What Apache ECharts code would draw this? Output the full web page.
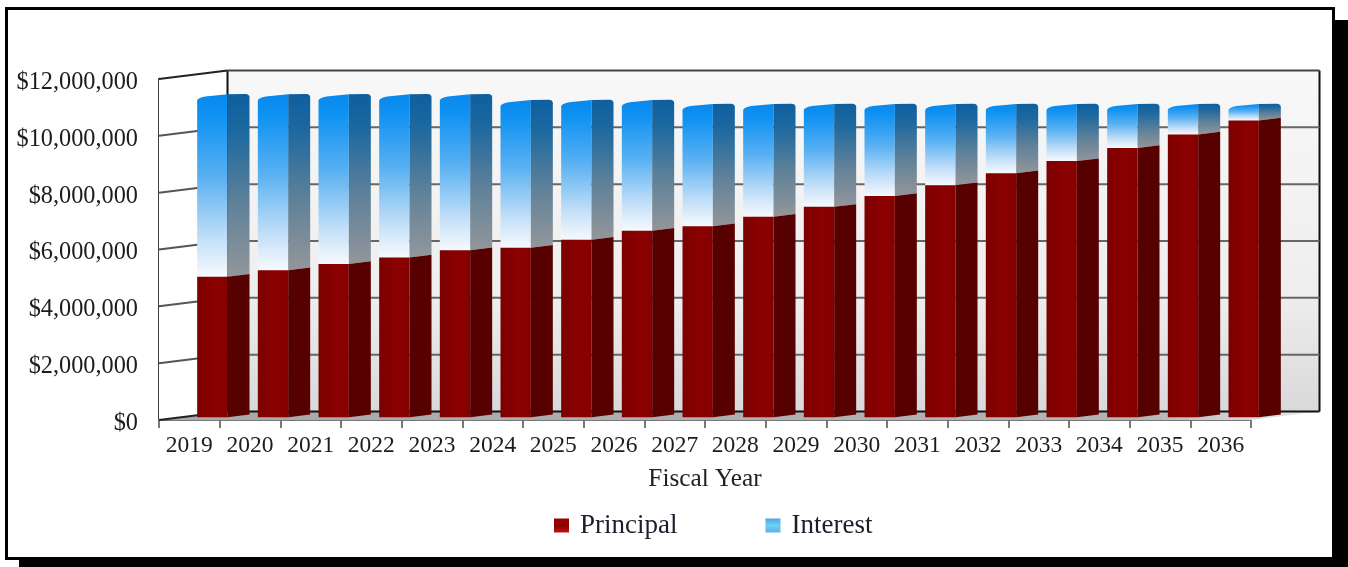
<!DOCTYPE html>
<html>
<head>
<meta charset="utf-8">
<script src="https://cdn.jsdelivr.net/npm/echarts@6/dist/echarts.min.js"></script>
<style>
html,body{margin:0;padding:0;background:#fff;overflow:hidden}
#shadow{position:absolute;left:19px;top:20px;width:1329px;height:547px;background:#000}
#frame{position:absolute;left:5px;top:7px;width:1324px;height:547px;background:#fff;border:3px solid #000}
#chart{position:absolute;left:0;top:0;width:1348px;height:567px}
</style>
</head>
<body>
<div id="shadow"></div>
<div id="frame"></div>
<div id="chart"></div>
<script>
var categories = ['2019','2020','2021','2022','2023','2024','2025','2026','2027','2028','2029','2030','2031','2032','2033','2034','2035','2036'];
var principal = [4940000,5170000,5390000,5620000,5870000,5960000,6240000,6560000,6720000,7050000,7400000,7780000,8160000,8580000,9010000,9470000,9950000,10440000];
var interest = [6310000,6080000,5860000,5630000,5380000,5090000,4810000,4490000,4190000,3860000,3510000,3130000,2750000,2330000,1900000,1440000,960000,470000];
var yMin = 0, yMax = 12000000, yStep = 2000000;
var wallTicks = [0,2000000,4000000,6000000,8000000,10000000,12000000];

var DEPTH_X = 68.5, DEPTH_Y = 8.5;
var BAR_DEPTH = 22, BAR_OFFSET = 23, BAR_RATIO = 0.5;
var G = echarts.graphic;
var FONT = '"Liberation Serif","Times New Roman",serif';

function vgrad(stops){ return new G.LinearGradient(0,0,0,1,stops.map(function(s){return {offset:s[0],color:s[1]};})); }
function hgrad(stops){ return new G.LinearGradient(0,0,1,0,stops.map(function(s){return {offset:s[0],color:s[1]};})); }

function renderBar(kind){
  return function(params, api){
    var i = api.value(0), a = api.coord([i, api.value(1)]), b = api.coord([i, api.value(2)]);
    var w = api.size([1,0])[0] * BAR_RATIO;
    var rise = BAR_DEPTH * DEPTH_Y / DEPTH_X;
    var lift = BAR_OFFSET * DEPTH_Y / DEPTH_X;
    var x0 = a[0] + BAR_OFFSET - w/2, x1 = x0 + w, x2 = x1 + BAR_DEPTH;
    var yB = a[1] - lift, yT = b[1] - lift;
    if (kind === 'principal') {
      return {type:'group', children:[
        {type:'polygon', shape:{points:[[x0,yB],[x1,yB],[x1,yT],[x0,yT]]},
          style:{fill:hgrad([[0,'#7c0000'],[0.6,'#8c0000'],[1,'#860000']])}},
        {type:'polygon', shape:{points:[[x1,yB],[x2,yB-rise],[x2,yT-rise],[x1,yT]]},
          style:{fill:'#570000'}}
      ]};
    }
    var front = 'M'+x0+' '+yB+' L'+x0+' '+(yT+3)+' Q'+(x0+0.5)+' '+(yT+0.6)+' '+(x0+8)+' '+(yT-1)+
      ' L'+x1+' '+(yT-3.2)+' L'+x1+' '+yB+' Z';
    var side = 'M'+x1+' '+(yT-3.2)+' L'+(x2-4)+' '+(yT-3.4)+' Q'+x2+' '+(yT-3.2)+' '+x2+' '+yT+
      ' L'+x2+' '+(yB-rise)+' L'+x1+' '+yB+' Z';
    return {type:'group', children:[
      {type:'path', shape:{pathData:front}, style:{fill:vgrad([[0,'#0788ee'],[0.12,'#0f92f2'],[0.45,'#58b0f2'],[0.8,'#c4e0f8'],[1,'#f6f9fd']])}},
      {type:'path', shape:{pathData:side}, style:{fill:vgrad([[0,'#0f5f9f'],[0.2,'#1c689f'],[0.6,'#5f8199'],[1,'#93969a']])}}
    ]};
  };
}

function renderWalls(params, api){
  var f0 = api.coord([0, yMin]), ft = api.coord([0, yMax]);
  var xL = f0[0] - api.size([1,0])[0]/2;
  var xR = xL + api.size([1,0])[0]*categories.length;
  var yB = f0[1], yT = ft[1];
  var back = [[xL+DEPTH_X,yT-DEPTH_Y],[xR+DEPTH_X,yT-DEPTH_Y],[xR+DEPTH_X,yB-DEPTH_Y],[xL+DEPTH_X,yB-DEPTH_Y]];
  var sideW = [[xL,yT],[xL+DEPTH_X,yT-DEPTH_Y],[xL+DEPTH_X,yB-DEPTH_Y],[xL,yB]];
  var floor = [[xL,yB],[xL+DEPTH_X,yB-DEPTH_Y],[xR+DEPTH_X,yB-DEPTH_Y],[xR,yB]];
  return {type:'group', children:[
    {type:'polygon', shape:{points:back}, style:{fill:vgrad([[0,'#f8f8f8'],[0.65,'#eeeeee'],[1,'#d9d9db']])}},
    {type:'polygon', shape:{points:sideW}, style:{fill:'#ffffff'}},
    {type:'polygon', shape:{points:floor}, style:{fill:hgrad([[0,'#a8a8a8'],[0.85,'#b4b4b4'],[1,'#eeeeee']])}},
    {type:'line', shape:{x1:xL+DEPTH_X,y1:yT-DEPTH_Y,x2:xL+DEPTH_X,y2:yB-DEPTH_Y}, style:{stroke:'#111',lineWidth:2}},
    {type:'line', shape:{x1:xR+DEPTH_X,y1:yT-DEPTH_Y,x2:xR+DEPTH_X,y2:yB-DEPTH_Y}, style:{stroke:'#111',lineWidth:2}}
  ]};
}

function renderGrid(params, api){
  var v = api.value(1), p = api.coord([0, v]);
  var xL = p[0] - api.size([1,0])[0]/2;
  var xR = xL + api.size([1,0])[0]*categories.length;
  var edge = (v === yMin || v === yMax) ? '#222' : '#555';
  var backCol = (v === yMin) ? '#111' : (v === yMax ? '#444' : '#666');
  return {type:'group', children:[
    {type:'line', shape:{x1:xL,y1:p[1],x2:xL+DEPTH_X,y2:p[1]-DEPTH_Y}, style:{stroke:edge,lineWidth:2}},
    {type:'line', shape:{x1:xL+DEPTH_X,y1:p[1]-DEPTH_Y,x2:xR+DEPTH_X,y2:p[1]-DEPTH_Y}, style:{stroke:backCol,lineWidth:2}}
  ]};
}

var principalData = categories.map(function(c,i){ return [i, 0, principal[i]]; });
var interestData = categories.map(function(c,i){ return [i, principal[i], principal[i]+interest[i]]; });

var chart = echarts.init(document.getElementById('chart'), null, {renderer:'canvas'});
chart.setOption({
  animation:false,
  backgroundColor:'transparent',
  tooltip:{show:false},
  grid:{left:159, right:97, top:79, bottom:147, containLabel:false},
  legend:{
    left:549, top:507, itemWidth:15, itemHeight:14, itemGap:88, icon:'rect',
    textStyle:{fontFamily:FONT,fontSize:27,color:'#1c1c2a',padding:[0,0,0,6]},
    data:[
      {name:'Principal', itemStyle:{color:vgrad([[0,'#a00000'],[0.5,'#8a0000'],[1,'#c01010']])}},
      {name:'Interest', itemStyle:{color:vgrad([[0,'#4aa8e0'],[0.5,'#6fd0f0'],[1,'#5ab0e8']])}}
    ]
  },
  xAxis:{
    type:'category', data:categories, boundaryGap:true,
    name:'Fiscal Year', nameLocation:'middle', nameGap:47,
    nameTextStyle:{fontFamily:FONT,fontSize:25.3,color:'#222'},
    axisLine:{show:true,lineStyle:{color:'#777',width:2}},
    axisTick:{show:true,alignWithLabel:false,length:8,lineStyle:{color:'#777',width:2}},
    axisLabel:{fontFamily:FONT,fontSize:23.5,color:'#1c1c1c',margin:14,interval:0},
    splitLine:{show:false}
  },
  yAxis:{
    type:'value', min:yMin, max:yMax, interval:yStep,
    axisLine:{show:true,lineStyle:{color:'#000',width:2.5}},
    axisTick:{show:false},
    splitLine:{show:false},
    axisLabel:{fontFamily:FONT,fontSize:24.3,color:'#1c1c1c',margin:21,verticalAlign:'top',lineHeight:7,
      formatter:function(v){ return '$'+v.toString().replace(/\B(?=(\d{3})+(?!\d))/g,','); }}
  },
  series:[
    {type:'custom', name:'walls', z:1, silent:true, clip:false, renderItem:renderWalls, data:[[0,0]], encode:{x:0,y:1}},
    {type:'custom', name:'grid', z:2, silent:true, clip:false, renderItem:renderGrid, data:wallTicks.map(function(v){return [0,v];}), encode:{x:0,y:1}},
    {type:'custom', name:'Interest', z:3, silent:true, clip:false, renderItem:renderBar('interest'), data:interestData, encode:{x:0,y:2}, itemStyle:{color:'#4aa8e0'}},
    {type:'custom', name:'Principal', z:4, silent:true, clip:false, renderItem:renderBar('principal'), data:principalData, encode:{x:0,y:2}, itemStyle:{color:'#8a0000'}}
  ]
});
</script>
</body>
</html>
